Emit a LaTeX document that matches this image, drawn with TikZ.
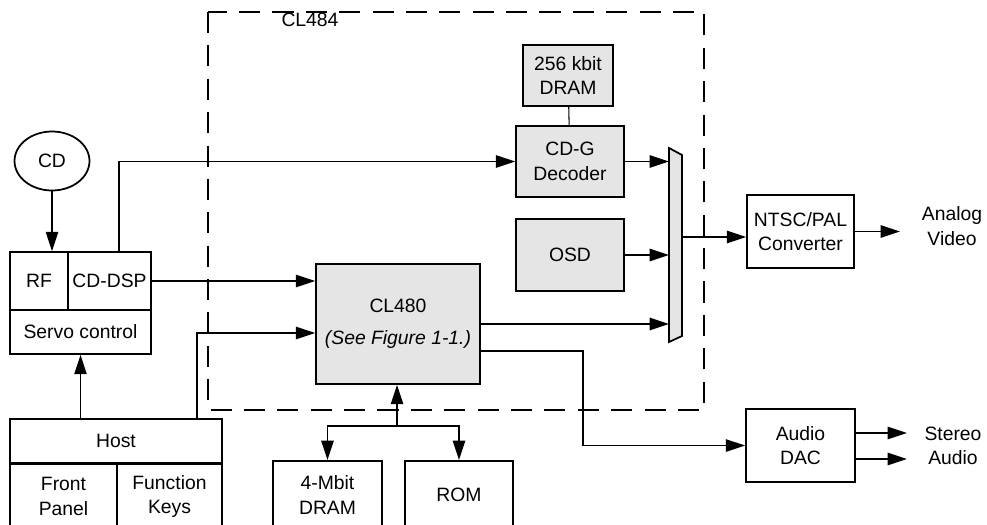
\documentclass[tikz,border=0pt]{standalone}
\usepackage{fontspec}
\setmainfont{Liberation Sans}
\usetikzlibrary{shapes.geometric, arrows.meta, positioning, calc}

\begin{document}
\begin{tikzpicture}[x=0.02cm, y=-0.02cm,
    font=\fontsize{11}{14}\selectfont,
    box/.style={draw, line width=1pt, align=center, inner sep=0pt},
    chip/.style={box, fill=black!10},
    arr/.style={line width=1pt, -{Triangle[length=11pt,width=7pt]}},
    wire/.style={line width=1pt}]
    \useasboundingbox (0,0) rectangle (987,524);
    \clip (0,0) rectangle (987,524);

    % CL484 boundary
    \draw[wire, dash pattern=on 12pt off 7pt] (208,12) rectangle (704,410);
    \node (cl484) at (310,20) {CL484};

    % Drive side
    \node[box, ellipse, minimum width=1.5cm, minimum height=1.18cm] (cd) at (52,161) {CD};
    \node[box, minimum width=1.16cm, minimum height=1.16cm] (rf) at (39,281) {RF};
    \node[box, minimum width=1.66cm, minimum height=1.16cm] (dsp) at (109.5,281) {CD-DSP};
    \node[box, minimum width=2.82cm, minimum height=0.88cm] (servo) at (80.5,332) {Servo control};

    % Host
    \node[box, minimum width=4.24cm, minimum height=0.88cm] (host) at (116,441) {Host};
    \node[box, anchor=north, minimum width=2.14cm, minimum height=1.3cm] (front) at (63.5,463) {Front\\Panel};
    \node[box, anchor=north, minimum width=2.1cm, minimum height=1.3cm] (keys) at (169.5,463) {Function\\Keys};

    % Decoder chips
    \node[chip, minimum width=3.28cm, minimum height=2.4cm] (cl480) at (398,324) {CL480\\[4pt]\textit{(See Figure 1-1.)}};
    \node[chip, minimum width=1.8cm, minimum height=1.22cm] (dram256) at (568,75.5) {256 kbit\\DRAM};
    \node[chip, minimum width=2.16cm, minimum height=1.42cm] (cdg) at (570,161.5) {CD-G\\Decoder};
    \node[chip, minimum width=2.16cm, minimum height=1.44cm] (osd) at (570,255) {OSD};

    % Memory
    \node[box, anchor=north, minimum width=2.18cm, minimum height=1.36cm] (dram4) at (327.5,460) {4-Mbit\\DRAM};
    \node[box, anchor=north, minimum width=2.16cm, minimum height=1.36cm] (rom) at (459,460) {ROM};

    % Outputs
    \node[box, minimum width=2.14cm, minimum height=1.46cm] (ntsc) at (800.5,231.5) {NTSC/PAL\\Converter};
    \node[box, minimum width=2.18cm, minimum height=1.46cm] (dac) at (800.5,445.5) {Audio\\DAC};
    \node[align=center] (video) at (952,226) {Analog\\Video};
    \node[align=center] (stereo) at (953,446) {Stereo\\Audio};

    % Video mux
    \filldraw[wire, fill=black!10] (669,148) -- (682,155) -- (682,336) -- (669,342) -- cycle;
    \coordinate (muxin) at (669,0);
    \coordinate (muxout) at (682,237);

    % Connections
    \draw[arr] (cd) -- (cd |- rf.north);
    \draw[arr] ([xshift=0.19cm]dsp.north) |- (cdg.west);
    \draw[arr] (dsp.east) -- (dsp.east -| cl480.west);
    \draw[arr] (servo.south |- host.north) -- (servo.south);
    \draw[arr] ([xshift=-0.52cm]host.north east) |- ([yshift=-0.18cm]cl480.west);

    \draw[wire, line width=0.6pt] (dram256) -- (cdg);
    \draw[arr] (cdg.east) -- (cdg.east -| muxin);
    \draw[arr] (osd.east) -- (osd.east -| muxin);
    \draw[arr] (cl480.east) -- (cl480.east -| muxin);
    \draw[arr] (muxout) -- (muxout -| ntsc.west);
    \coordinate (vout) at (900,0);
    \draw[arr] (ntsc.east) -- (ntsc.east -| vout);

    \coordinate (tap) at (583,0);
    \draw[arr] ([yshift=-0.54cm]cl480.east) -| (tap |- dac.west) -- (dac.west);
    \coordinate (aout) at (907,0);
    \coordinate (dacA) at ([yshift=0.25cm]dac.east);
    \coordinate (dacB) at ([yshift=-0.27cm]dac.east);
    \draw[arr] (dacA) -- (dacA -| aout);
    \draw[arr] (dacB) -- (dacB -| aout);

    \coordinate (mem) at (397,426);
    \draw[arr] (mem) -- (mem |- cl480.south);
    \draw[arr] (mem) -| (dram4.north);
    \draw[arr] (mem) -| (rom.north);

\end{tikzpicture}
\end{document}
